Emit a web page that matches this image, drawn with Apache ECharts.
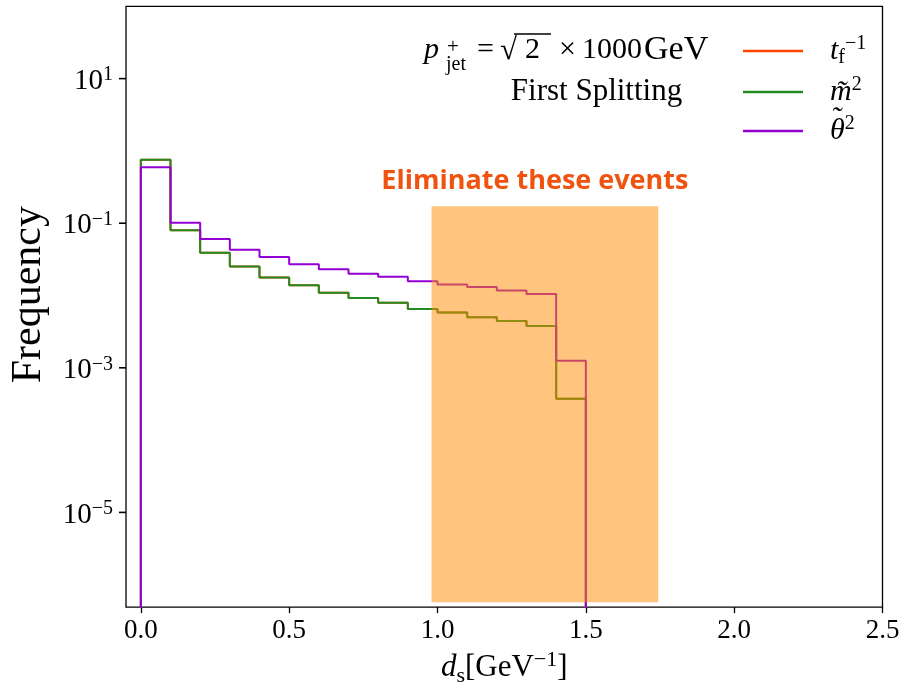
<!DOCTYPE html>
<html>
<head>
<meta charset="utf-8">
<script src="https://cdn.jsdelivr.net/npm/echarts@6/dist/echarts.min.js"></script>
<style>
  html, body { margin: 0; padding: 0; background: #fff; }
  #chart { width: 903px; height: 692px; }
</style>
</head>
<body>
<div id="chart"></div>
<script>
// histogram bins (GeV^-1), width 0.1
const binEdges = [0, 0.1, 0.2, 0.3, 0.4, 0.5, 0.6, 0.7, 0.8, 0.9, 1.0, 1.1, 1.2, 1.3, 1.4, 1.5];

// frequencies per bin
const freqTf = [0.757, 0.0796, 0.0389, 0.0252, 0.0177, 0.0139, 0.0109, 0.0092, 0.00796, 0.0065, 0.0058, 0.0050, 0.00444, 0.00379, 0.000374];
const freqM2 = [0.757, 0.0796, 0.0389, 0.0252, 0.0177, 0.0139, 0.0109, 0.0092, 0.00796, 0.0065, 0.0058, 0.0050, 0.00444, 0.00379, 0.000374];
const freqTheta2 = [0.594, 0.1016, 0.0606, 0.0431, 0.0342, 0.0271, 0.0231, 0.0200, 0.0182, 0.0158, 0.0142, 0.0131, 0.0117, 0.01045, 0.00125];

const seriesNames = ['tf', 'm2', 'theta2'];
const seriesColors = ['#FF4500', '#228B22', '#9400D3'];

// axis ranges, x tick labels and y decades shown
const xRange = [-0.05, 2.5];
const yRange = [4.9e-7, 100];
const xTicks = [0, 0.5, 1.0, 1.5, 2.0, 2.5];
const yTickExps = [-5, -3, -1, 1];
const yTicks = yTickExps.map(e => Math.pow(10, e));

// "Eliminate these events" band: x range and y range
const shadeX = [0.98, 1.744];
const shadeY = [5.7e-7, 0.171];

const SERIF = 'Liberation Serif';
const FLOOR = 1e-9; // below axis min, so the edges run down to the spine

function stepData(vals) {
    const n = vals.length;
    const pts = [[binEdges[0], FLOOR]];
    vals.forEach((v, i) => pts.push([binEdges[i], v]));
    pts.push([binEdges[n], vals[n - 1]]);
    pts.push([binEdges[n], FLOOR]);
    return pts;
}

const legendText = {
    tf: '{it|t}{sub|f}{sup|\u22121}',
    m2: '{it|m\u0303}{sup|2}',
    theta2: '{it|\u03b8}{sup|2}'
};

const lineSeries = [freqTf, freqM2, freqTheta2].map((vals, i) => ({
    name: seriesNames[i],
    type: 'line',
    step: 'end',
    data: stepData(vals),
    symbol: 'none',
    showSymbol: false,
    color: seriesColors[i],
    lineStyle: { color: seriesColors[i], width: 2 },
    clip: true,
    z: 2 + i,
    silent: true
}));

// orange band drawn over the lines, with its caption
const shadeSeries = {
    name: 'shade',
    type: 'custom',
    z: 10,
    silent: true,
    data: [[shadeX[0], shadeX[1], shadeY[0], shadeY[1]]],
    renderItem: function (params, api) {
        const p0 = api.coord([api.value(0), api.value(3)]);
        const p1 = api.coord([api.value(1), api.value(2)]);
        return {
            type: 'group',
            children: [{
                type: 'rect',
                shape: { x: p0[0], y: p0[1], width: p1[0] - p0[0], height: p1[1] - p0[1] },
                style: { fill: 'rgba(255,140,0,0.5)' }
            }, {
                type: 'text',
                x: (p0[0] + p1[0]) / 2 - 10,
                y: p0[1] - 25,
                style: {
                    text: 'Eliminate these events',
                    fill: '#F0530F',
                    fontFamily: 'Open Sans',
                    fontWeight: 'bold',
                    fontSize: 27,
                    align: 'center',
                    verticalAlign: 'middle'
                }
            }]
        };
    }
};

function txt(x, y, text, size, extra) {
    return {
        type: 'text',
        x: x,
        y: y,
        silent: true,
        style: Object.assign({
            text: text,
            fontFamily: SERIF,
            fontSize: size,
            fill: '#000',
            align: 'left',
            verticalAlign: 'middle'
        }, extra || {})
    };
}

const annotations = [
    txt(424, 50, 'p', 30, { fontStyle: 'italic' }),
    txt(447, 47, '+', 21),
    txt(446, 65, 'jet', 20),
    txt(477, 50, '=', 30),
    txt(500, 51, '\u221a', 31),
    {
        type: 'line',
        silent: true,
        shape: { x1: 514, y1: 34, x2: 551, y2: 34 },
        style: { stroke: '#000', lineWidth: 1.3 }
    },
    txt(525, 50, '2', 30),
    txt(559, 50, '\u00d7', 30),
    txt(582, 50, '1000', 30),
    txt(644, 50, 'GeV', 34),
    // tilde over the legend theta
    txt(836, 119, '\u02dc', 30, { align: 'center', fontStyle: 'italic' }),
    txt(596.5, 92, 'First Splitting', 31, { align: 'center' })
];

const option = {
    animation: false,
    backgroundColor: '#fff',
    grid: {
        left: 125.7,
        right: 20.5,
        top: 6.3,
        bottom: 81,
        show: true,
        borderColor: '#000',
        borderWidth: 1.3,
        backgroundColor: 'transparent'
    },
    xAxis: {
        type: 'value',
        min: xRange[0],
        max: xRange[1],
        axisLine: { show: false, onZero: false },
        splitLine: { show: false },
        axisTick: {
            show: true,
            length: 6,
            customValues: xTicks,
            lineStyle: { color: '#000', width: 1.3 }
        },
        axisLabel: {
            customValues: xTicks,
            margin: 10,
            fontFamily: SERIF,
            fontSize: 27,
            color: '#000',
            formatter: v => v.toFixed(1)
        },
        name: '{it|d}{sub|s}{r|[GeV}{sup|\u22121}{r|]}',
        nameLocation: 'middle',
        nameGap: 31,
        nameTextStyle: {
            rich: {
                it: { fontFamily: SERIF, fontStyle: 'italic', fontSize: 31, lineHeight: 38, color: '#000' },
                r: { fontFamily: SERIF, fontSize: 31, lineHeight: 38, color: '#000' },
                sub: { fontFamily: SERIF, fontSize: 22, verticalAlign: 'bottom', lineHeight: 22, color: '#000' },
                sup: { fontFamily: SERIF, fontSize: 22, verticalAlign: 'top', lineHeight: 22, color: '#000' }
            }
        }
    },
    yAxis: {
        type: 'log',
        logBase: 10,
        min: yRange[0],
        max: yRange[1],
        axisLine: { show: false, onZero: false },
        splitLine: { show: false },
        minorTick: { show: false },
        axisTick: { show: false },
        axisLabel: {
            customValues: yTicks,
            margin: 13,
            padding: [5, 0, 0, 0],
            formatter: v => '{b|10}{s|' + String(Math.round(Math.log10(v))).replace('-', '\u2212') + '}',
            rich: {
                b: { fontFamily: SERIF, fontSize: 29, lineHeight: 32, color: '#000' },
                s: { fontFamily: SERIF, fontSize: 20, verticalAlign: 'top', lineHeight: 19, color: '#000' }
            }
        },
        name: 'Frequency',
        nameLocation: 'middle',
        nameGap: 76,
        nameTextStyle: {
            fontFamily: SERIF,
            fontSize: 42,
            color: '#000',
            padding: [0, 0, 0, 24]
        }
    },
    legend: {
        data: seriesNames,
        orient: 'vertical',
        left: 738,
        top: 29,
        itemWidth: 60,
        itemHeight: 2.5,
        itemGap: 7,
        icon: 'rect',
        selectedMode: false,
        formatter: name => legendText[name],
        textStyle: {
            rich: {
                it: { fontFamily: SERIF, fontStyle: 'italic', fontSize: 30, lineHeight: 34, padding: [0, 0, 0, 22], color: '#000' },
                sub: { fontFamily: SERIF, fontSize: 20, verticalAlign: 'bottom', lineHeight: 20, color: '#000' },
                sup: { fontFamily: SERIF, fontSize: 20, verticalAlign: 'top', lineHeight: 20, color: '#000' }
            }
        }
    },
    graphic: annotations,
    series: lineSeries.concat([shadeSeries])
};

const chart = echarts.init(document.getElementById('chart'), null, { renderer: 'canvas' });
chart.setOption(option);

// outward tick marks on the left spine, placed through the log axis
const gridRect = chart.getModel().getComponent('grid', 0).coordinateSystem.getRect();
const yTickMarks = yTicks.map(v => {
    const py = chart.convertToPixel({ yAxisIndex: 0 }, v);
    return {
        type: 'rect',
        silent: true,
        z: 100,
        shape: { x: gridRect.x - 7, y: py - 0.8, width: 7, height: 1.6 },
        style: { fill: '#000' }
    };
});
chart.setOption({ graphic: annotations.concat(yTickMarks) });
</script>
</body>
</html>
